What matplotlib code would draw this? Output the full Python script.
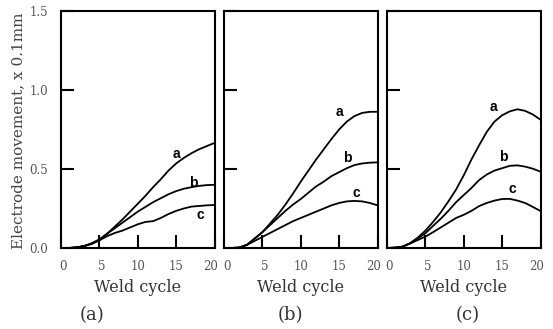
import matplotlib
matplotlib.use("Agg")
import matplotlib.pyplot as plt
from matplotlib.transforms import ScaledTranslation

cycles = [0, 1, 2, 3, 4, 5, 6, 7, 8, 9, 10, 11, 12, 13, 14, 15, 16, 17, 18, 19, 20]

a_a = [0, 0, 0.004, 0.012, 0.025, 0.05, 0.09, 0.135, 0.18, 0.23, 0.28, 0.33, 0.385, 0.435, 0.49, 0.535, 0.57, 0.60, 0.625, 0.645, 0.665]
a_b = [0, 0, 0.004, 0.012, 0.03, 0.055, 0.09, 0.125, 0.16, 0.195, 0.23, 0.26, 0.29, 0.315, 0.34, 0.36, 0.375, 0.385, 0.393, 0.398, 0.40]
a_c = [0, 0, 0.004, 0.012, 0.028, 0.048, 0.075, 0.095, 0.11, 0.13, 0.15, 0.165, 0.17, 0.19, 0.215, 0.235, 0.25, 0.262, 0.266, 0.27, 0.272]

b_a = [0, 0, 0.003, 0.02, 0.06, 0.10, 0.155, 0.21, 0.275, 0.345, 0.42, 0.49, 0.56, 0.625, 0.69, 0.75, 0.80, 0.835, 0.855, 0.862, 0.862]
b_b = [0, 0, 0.003, 0.02, 0.06, 0.10, 0.145, 0.19, 0.235, 0.275, 0.31, 0.35, 0.39, 0.42, 0.455, 0.48, 0.505, 0.525, 0.535, 0.54, 0.542]
b_c = [0, 0, 0.003, 0.02, 0.045, 0.07, 0.095, 0.12, 0.145, 0.17, 0.19, 0.21, 0.23, 0.25, 0.27, 0.285, 0.295, 0.298, 0.295, 0.285, 0.27]

c_a = [0, 0.002, 0.008, 0.03, 0.065, 0.11, 0.165, 0.225, 0.295, 0.37, 0.46, 0.56, 0.65, 0.735, 0.80, 0.84, 0.865, 0.878, 0.868, 0.845, 0.812]
c_b = [0, 0.002, 0.008, 0.03, 0.06, 0.093, 0.14, 0.185, 0.235, 0.29, 0.335, 0.38, 0.43, 0.465, 0.49, 0.505, 0.52, 0.523, 0.515, 0.502, 0.483]
c_c = [0, 0.002, 0.008, 0.028, 0.05, 0.072, 0.10, 0.13, 0.16, 0.19, 0.21, 0.235, 0.265, 0.285, 0.30, 0.31, 0.311, 0.30, 0.285, 0.26, 0.234]

curve_names = ["a", "b", "c"]
panel_names = ["(a)", "(b)", "(c)"]
panels = [[a_a, a_b, a_c], [b_a, b_b, b_c], [c_a, c_b, c_c]]
label_pos = [
    [(15.05, 0.593), (17.2, 0.413), (18.1, 0.209)],
    [(15.0, 0.863), (16.1, 0.568), (17.3, 0.35)],
    [(13.86, 0.89), (15.1, 0.574), (16.3, 0.371)],
]
x_ticks = [0, 5, 10, 15, 20]
y_ticks = [0.0, 0.5, 1.0, 1.5]

W, H = 553, 329
fig = plt.figure(figsize=(W / 100, H / 100), dpi=100)

lefts = [61, 224, 387]
pw = 153.5
bottom_px, top_px = 248, 11
grey = "#555555"
serif = "DejaVu Serif"
# small horizontal nudges (pixels) of the x tick labels, as in the reference
x_label_shift = [2.5, 2, 0, 0, -4]

for i, (left, series) in enumerate(zip(lefts, panels)):
    ax = fig.add_axes([left / W, 1 - bottom_px / H, pw / W, (bottom_px - top_px) / H])
    for ys, name, pos in zip(series, curve_names, label_pos[i]):
        ax.plot(cycles, ys, color="black", lw=1.3)
        ax.text(pos[0], pos[1], name, ha="center", va="center", fontsize=10,
                fontweight="bold", family="Liberation Sans", color="black")
    ax.set_xlim(0, 20)
    ax.set_ylim(0, 1.5)
    for s in ax.spines.values():
        s.set_linewidth(1.5)
        s.set_color("black")
    ax.set_xticks(x_ticks)
    ax.set_xticklabels([str(t) for t in x_ticks], fontsize=8.5, family=serif, color=grey)
    ax.set_yticks(y_ticks)
    if i == 0:
        ax.set_yticklabels([f"{t:.1f}" for t in y_ticks], fontsize=8.5,
                           family=serif, color=grey)
    else:
        ax.set_yticklabels([])
    ax.tick_params(axis="both", which="major", direction="in", length=9.5, width=1.5,
                   color="black", pad=9)
    for lab, dx in zip(ax.get_xticklabels(), x_label_shift):
        lab.set_transform(lab.get_transform() +
                          ScaledTranslation(dx / 100, 0, fig.dpi_scale_trans))

    cx = (left + pw / 2) / W
    fig.text(cx, 1 - 288 / H, "Weld cycle", ha="center", va="center",
             fontsize=11.5, family=serif, color="#333333")

panel_label_x = [92, 290, 468]
for px, name in zip(panel_label_x, panel_names):
    fig.text(px / W, 1 - 315 / H, name, ha="center", va="center",
             fontsize=13, family=serif, color="#333333")

fig.text(18 / W, 1 - 131 / H, "Electrode movement, x 0.1mm", rotation=90,
         ha="center", va="center", fontsize=11, family=serif, color="#444444")

fig.savefig("out.png", dpi=100, facecolor="white")
